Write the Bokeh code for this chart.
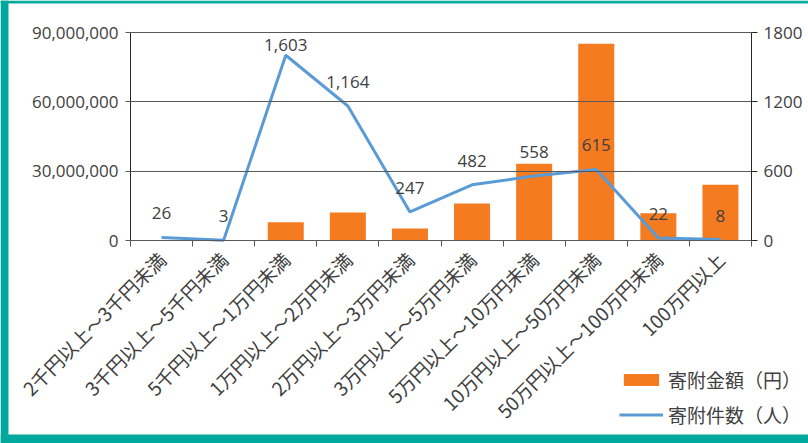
from math import pi
from bokeh.plotting import figure
from bokeh.models import (Range1d, LinearAxis, FixedTicker, NumeralTickFormatter,
                          ColumnDataSource, Legend, LegendItem, Grid, BoxAnnotation)
from bokeh.core.properties import value
from bokeh.embed import file_html
from bokeh.resources import INLINE

# ---- data ----
categories = ["2千円以上～3千円未満", "3千円以上～5千円未満", "5千円以上～1万円未満",
              "1万円以上～2万円未満", "2万円以上～3万円未満", "3万円以上～5万円未満",
              "5万円以上～10万円未満", "10万円以上～50万円未満", "50万円以上～100万円未満",
              "100万円以上"]
amounts = [65000, 12000, 7900000, 12100000, 5200000, 16000000, 33200000, 85100000, 11800000, 24100000]
counts = [26, 3, 1603, 1164, 247, 482, 558, 615, 22, 8]
left_ticks = [0, 30000000, 60000000, 90000000]
right_ticks = [0, 600, 1200, 1800]
series_names = ["寄附金額（円）", "寄附件数（人）"]

# ---- layout / styles ----
W, H = 808, 443                  # figure size (frame covers all of it)
PL, PR, PT, PB = 130, 751, 32, 240   # plot-area edges in pixels
AMT_MAX, CNT_MAX = 90000000, 1800
ORANGE = "#F47B20"
BLUE = "#5B9BD5"
TEXT = "#404040"
GRID = "#595959"
TEAL = "#00A99D"
NUM_FONT = "Open Sans"
JP_FONT = "Noto Sans CJK JP"
LABEL_CAP = 1480  # keeps the top data label inside the plot area

n = len(categories)
xs = [i + 0.5 for i in range(n)]
cat_px = (PR - PL) / n
amt_px = AMT_MAX / (PB - PT)
cnt_px = CNT_MAX / (PB - PT)

src = ColumnDataSource(dict(
    x=xs, amt=amounts, cnt=counts,
    ly=[min(c, LABEL_CAP) for c in counts],
    txt=[f"{c:,}" for c in counts],
))

p = figure(width=W, height=H,
           x_range=Range1d(-PL / cat_px, n + (W - PR) / cat_px),
           y_range=Range1d(-(H - PB) * amt_px, AMT_MAX + PT * amt_px),
           x_axis_location=None, y_axis_location=None,
           output_backend="svg", toolbar_location=None, min_border=0)
p.renderers = [r for r in p.renderers if not isinstance(r, Grid)]
p.center = [r for r in p.center if not isinstance(r, Grid)]
p.title_location = None
p.outline_line_color = None
p.background_fill_color = "white"
p.border_fill_color = "white"
p.extra_y_ranges = {"cnt": Range1d(-(H - PB) * cnt_px, CNT_MAX + PT * cnt_px)}

# teal frame around the chart (left, top and bottom bands)
for kw in (dict(left=0, right=8), dict(top=0, bottom=9), dict(top=H - 3, bottom=H)):
    units = {f"{k}_units": "screen" for k in kw}
    p.add_layout(BoxAnnotation(**kw, **units, fill_color=TEAL, fill_alpha=1,
                               line_color=None, level="underlay"))

# left axis (its inward ticks act as the horizontal gridlines)
ya = LinearAxis(fixed_location=0, bounds=(0, AMT_MAX), ticker=FixedTicker(ticks=left_ticks),
                formatter=NumeralTickFormatter(format="0,0"))
ya.axis_line_color = "#262626"
ya.major_tick_line_color = GRID
ya.major_tick_out = 5
ya.major_tick_in = PR - PL
ya.minor_tick_line_color = None
ya.major_label_standoff = 7
ya.major_label_text_font = NUM_FONT
ya.major_label_text_font_size = "17px"
ya.major_label_text_color = TEXT
p.add_layout(ya, "left")

# bars
bars = p.vbar(x="x", top="amt", width=0.58, source=src, fill_color=ORANGE, line_color=None)

# x axis with rotated category labels and ticks between categories
xa = LinearAxis(fixed_location=0, bounds=(0, n),
                ticker=FixedTicker(ticks=xs, minor_ticks=list(range(n + 1))))
xa.major_label_overrides = {x: c for x, c in zip(xs, categories)}
xa.major_label_orientation = pi / 4
xa.major_tick_line_color = None
xa.major_tick_out = 0
xa.major_tick_in = 0
xa.minor_tick_line_color = GRID
xa.minor_tick_out = 6
xa.minor_tick_in = 0
xa.axis_line_color = "#7f7f7f"
xa.major_label_standoff = 9
xa.major_label_text_font = JP_FONT
xa.major_label_text_font_size = "19px"
xa.major_label_text_color = TEXT
p.add_layout(xa, "below")

# right axis
ra = LinearAxis(y_range_name="cnt", fixed_location=n, bounds=(0, CNT_MAX),
                ticker=FixedTicker(ticks=right_ticks))
ra.axis_line_color = "#262626"
ra.major_tick_line_color = "#262626"
ra.major_tick_out = 6
ra.major_tick_in = 0
ra.minor_tick_line_color = None
ra.major_label_standoff = 6
ra.major_label_text_font = NUM_FONT
ra.major_label_text_font_size = "17px"
ra.major_label_text_color = TEXT
p.add_layout(ra, "right")

# line + data labels
ln = p.line(x="x", y="cnt", source=src, y_range_name="cnt", line_color=BLUE, line_width=3)
p.text(x="x", y="ly", text="txt", source=src, y_range_name="cnt", y_offset=-24,
       text_align="center", text_baseline="middle", text_color=TEXT,
       text_font=value(NUM_FONT), text_font_size="17px")

# legend (inside the frame, bottom right)
legend = Legend(items=[LegendItem(label=series_names[0], renderers=[bars]),
                       LegendItem(label=series_names[1], renderers=[ln])],
                location=(619, H - 428), orientation="vertical",
                border_line_color=None, background_fill_alpha=0,
                padding=0, margin=0, spacing=8,
                glyph_width=44, glyph_height=15, label_standoff=5,
                label_text_font=JP_FONT, label_text_font_size="19px",
                label_text_color=TEXT)
p.add_layout(legend)

open("out.html", "w").write(file_html(p, INLINE))
